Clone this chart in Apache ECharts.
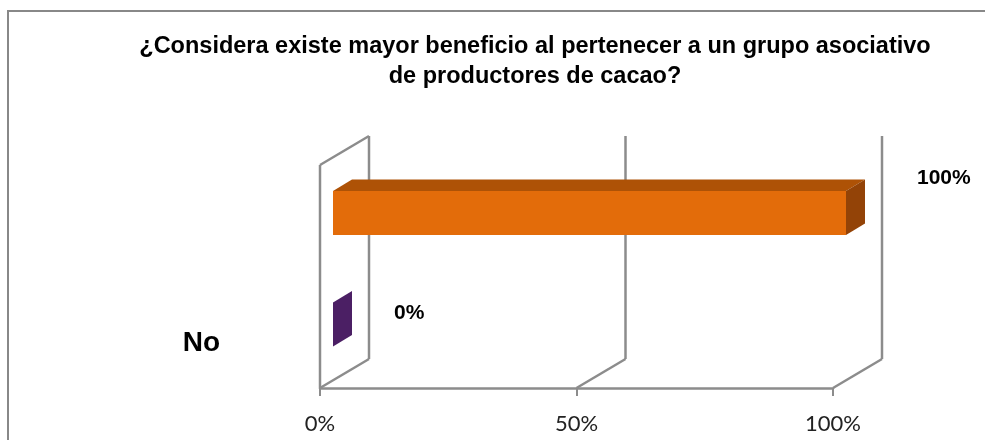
<!DOCTYPE html>
<html>
<head>
<meta charset="utf-8">
<script src="https://cdn.jsdelivr.net/npm/echarts@6/dist/echarts.min.js"></script>
<style>html,body{margin:0;padding:0;background:#fff}#c{width:985px;height:440px}</style>
</head>
<body>
<div id="c"></div>
<script>
const titleText = '¿Considera existe mayor beneficio al pertenecer a un grupo asociativo\nde productores de cacao?';
const categories = ['No', 'Sí'];
const values = [0, 1];
const valueLabels = ['0%', '100%'];
const xTicks = [0, 0.5, 1];
const tickLabels = ['0%', '50%', '100%'];

const DEPTH = [49, -29];
const BAR_FRONT = [13, -7.7];
const BAR_DEPTH = [19, -11.5];
const barStyles = [
  { front: '#5E2A7C', top: '#3F1A55', side: '#4B1F64' },
  { front: '#E36C0A', top: '#AE5206', side: '#934307' }
];
const GRID_COLOR = '#8C8C8C';

const chart = echarts.init(document.getElementById('c'), null, { renderer: 'canvas' });

function renderBar(params, api) {
  const v = api.value(0), idx = api.value(1);
  const p0 = api.coord([0, idx]);
  const p1 = api.coord([v, idx]);
  const band = api.size([0, 1])[1];
  const h = band * 0.395;
  const xL = p0[0] + BAR_FRONT[0], xR = p1[0] + BAR_FRONT[0];
  const yT = p0[1] - h / 2 + BAR_FRONT[1], yB = yT + h;
  const dx = BAR_DEPTH[0], dy = BAR_DEPTH[1];
  const st = barStyles[idx];
  const children = [];
  if (xR - xL > 0.5) {
    children.push({ type: 'rect', shape: { x: xL, y: yT, width: xR - xL, height: h }, style: { fill: st.front } });
    children.push({ type: 'polygon', shape: { points: [[xL, yT], [xR, yT], [xR + dx, yT + dy], [xL + dx, yT + dy]] }, style: { fill: st.top } });
  }
  children.push({ type: 'polygon', shape: { points: [[xR, yT], [xR + dx, yT + dy], [xR + dx, yB + dy], [xR, yB]] }, style: { fill: st.side } });
  const lab = idx === 1
    ? { x: xR + dx + 52, y: yT + dy - 1 }
    : { x: xR + dx + 42, y: yT + dy + 22 };
  children.push({
    type: 'text',
    style: {
      x: lab.x, y: lab.y, text: valueLabels[idx],
      fill: '#000', fontFamily: 'Liberation Sans', fontWeight: 'bold', fontSize: 21,
      verticalAlign: 'middle', align: 'left'
    }
  });
  return { type: 'group', children };
}

function renderWall(params, api) {
  const v = api.value(0);
  const cs = params.coordSys;
  const x = api.coord([v, 0])[0];
  const top = cs.y, bottom = cs.y + cs.height;
  const ls = { stroke: GRID_COLOR, lineWidth: 2.5 };
  const children = [
    { type: 'line', shape: { x1: x, y1: bottom, x2: x + DEPTH[0], y2: bottom + DEPTH[1] }, style: ls },
    { type: 'line', shape: { x1: x + DEPTH[0], y1: top + DEPTH[1], x2: x + DEPTH[0], y2: bottom + DEPTH[1] }, style: ls }
  ];
  if (v === xTicks[0]) {
    children.push({ type: 'line', shape: { x1: x, y1: top, x2: x, y2: bottom }, style: ls });
    children.push({ type: 'line', shape: { x1: x, y1: top, x2: x + DEPTH[0], y2: top + DEPTH[1] }, style: ls });
  }
  return { type: 'group', children };
}

chart.setOption({
  animation: false,
  backgroundColor: '#fff',
  title: {
    text: titleText,
    left: 530,
    top: 27,
    textAlign: 'center',
    textStyle: { fontFamily: 'Liberation Sans', fontWeight: 'bold', fontSize: 23.5, lineHeight: 30, color: '#000' }
  },
  graphic: [{
    type: 'polyline',
    shape: { points: [[8, 440], [8, 11], [985, 11]] },
    style: { stroke: '#888', lineWidth: 2, fill: null }
  }],
  grid: { left: 320, right: 152, top: 165, bottom: 52, containLabel: false, outerBoundsMode: 'none' },
  xAxis: {
    type: 'value', min: 0, max: 1, interval: 0.5,
    axisLine: { show: true, lineStyle: { color: GRID_COLOR, width: 2.5 } },
    axisTick: { show: true, length: 8, lineStyle: { color: GRID_COLOR, width: 2 } },
    splitLine: { show: false },
    axisLabel: {
      margin: 25, fontFamily: 'Lato', fontSize: 22, color: '#222',
      formatter: v => tickLabels[xTicks.indexOf(v)] ?? ''
    }
  },
  yAxis: {
    type: 'category', data: categories,
    axisLine: { show: false }, axisTick: { show: false }, splitLine: { show: false },
    axisLabel: {
      margin: 100,
      formatter: v => '{n|' + v + '}',
      rich: {
        n: { fontFamily: 'Liberation Sans', fontWeight: 'bold', fontSize: 28, padding: [22, 0, 0, 0] }
      },
      color: (val) => val === 'No' ? '#000' : 'rgba(0,0,0,0)'
    }
  },
  series: [
    {
      type: 'custom', clip: false, z: 1,
      data: xTicks.map(v => [v, 0]),
      encode: { x: 0, y: 1 },
      renderItem: renderWall,
      silent: true
    },
    {
      type: 'custom', clip: false, z: 5,
      data: categories.map((c, i) => [values[i], i]),
      encode: { x: 0, y: 1 },
      renderItem: renderBar
    }
  ]
});
</script>
</body>
</html>
